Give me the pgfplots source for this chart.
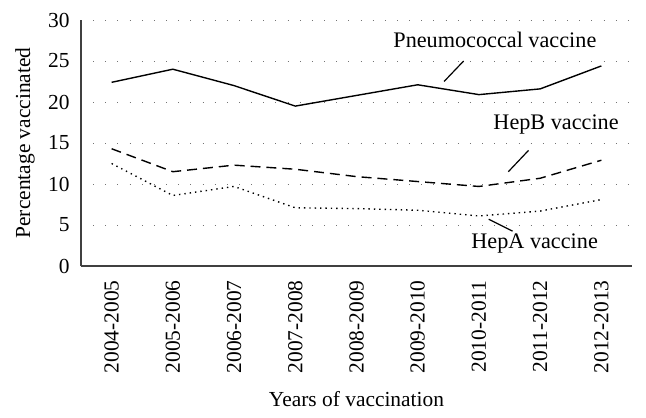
\documentclass[border=0pt]{standalone}
\usepackage{fontspec}
\setmainfont{Liberation Serif}
\usepackage{pgfplots}
\pgfplotsset{compat=1.18}
\begin{document}
\begin{tikzpicture}
\path[use as bounding box] (-81bp,-152bp) rectangle (565bp,266bp);
\begin{axis}[
  at={(0,0)}, anchor=south west,
  scale only axis, width=551bp, height=246bp,
  xmin=-0.5, xmax=8.5, ymin=0, ymax=30,
  axis x line*=bottom, axis y line*=left,
  axis line style={draw=black!75, line width=1.3pt, -},
  xtick={0,...,8},
  xticklabels={2004-2005,2005-2006,2006-2007,2007-2008,2008-2009,2009-2010,2010-2011,2011-2012,2012-2013},
  ytick={0,5,...,30},
  major tick length=0pt,
  xticklabel style={rotate=90, anchor=east, xshift=-11bp, font=\fontsize{21.5}{24}\selectfont},
  yticklabel style={xshift=-8bp, font=\fontsize{21.5}{24}\selectfont},
  /pgf/number format/assume math mode=true,
  ymajorgrids,
  grid style={draw=black!55, line width=1pt, dash pattern=on 1pt off 11.2pt},
  xlabel={Years of vaccination},
  ylabel={Percentage vaccinated},
  label style={font=\fontsize{21.5}{24}\selectfont},
  xlabel style={at={(axis description cs:0.5,0)}, anchor=base, yshift=-140bp},
  ylabel style={at={(axis description cs:0,0.5)}, anchor=center, yshift=56bp},
  clip=false,
]
\addplot[black, line width=1.4pt] coordinates {
 (0,22.4) (1,24.0) (2,22.0) (3,19.5) (4,20.8) (5,22.1) (6,20.9) (7,21.6) (8,24.4)};
\addplot[black, line width=1.4pt, dash pattern=on 10pt off 6pt] coordinates {
 (0,14.3) (1,11.5) (2,12.3) (3,11.8) (4,10.9) (5,10.3) (6,9.7) (7,10.7) (8,12.9)};
\addplot[black, line width=1.4pt, dash pattern=on 1.4pt off 4pt] coordinates {
 (0,12.5) (1,8.6) (2,9.7) (3,7.1) (4,7.0) (5,6.8) (6,6.1) (7,6.7) (8,8.1)};
\node[font=\fontsize{22.3}{24}\selectfont] at (axis cs:6.26,27.6) {Pneumococcal vaccine};
\draw[black, line width=1.2pt] (axis cs:5.75,25.0) -- (axis cs:5.43,22.5);
\node[font=\fontsize{22.3}{24}\selectfont] at (axis cs:7.26,17.3) {HepB vaccine};
\draw[black, line width=1.2pt] (axis cs:6.81,14.1) -- (axis cs:6.48,11.5);
\node[font=\fontsize{22.3}{24}\selectfont] at (axis cs:6.91,2.7) {HepA vaccine};
\draw[black, line width=1.2pt] (axis cs:6.16,5.7) -- (axis cs:6.55,4.25);
\end{axis}
\end{tikzpicture}
\end{document}
